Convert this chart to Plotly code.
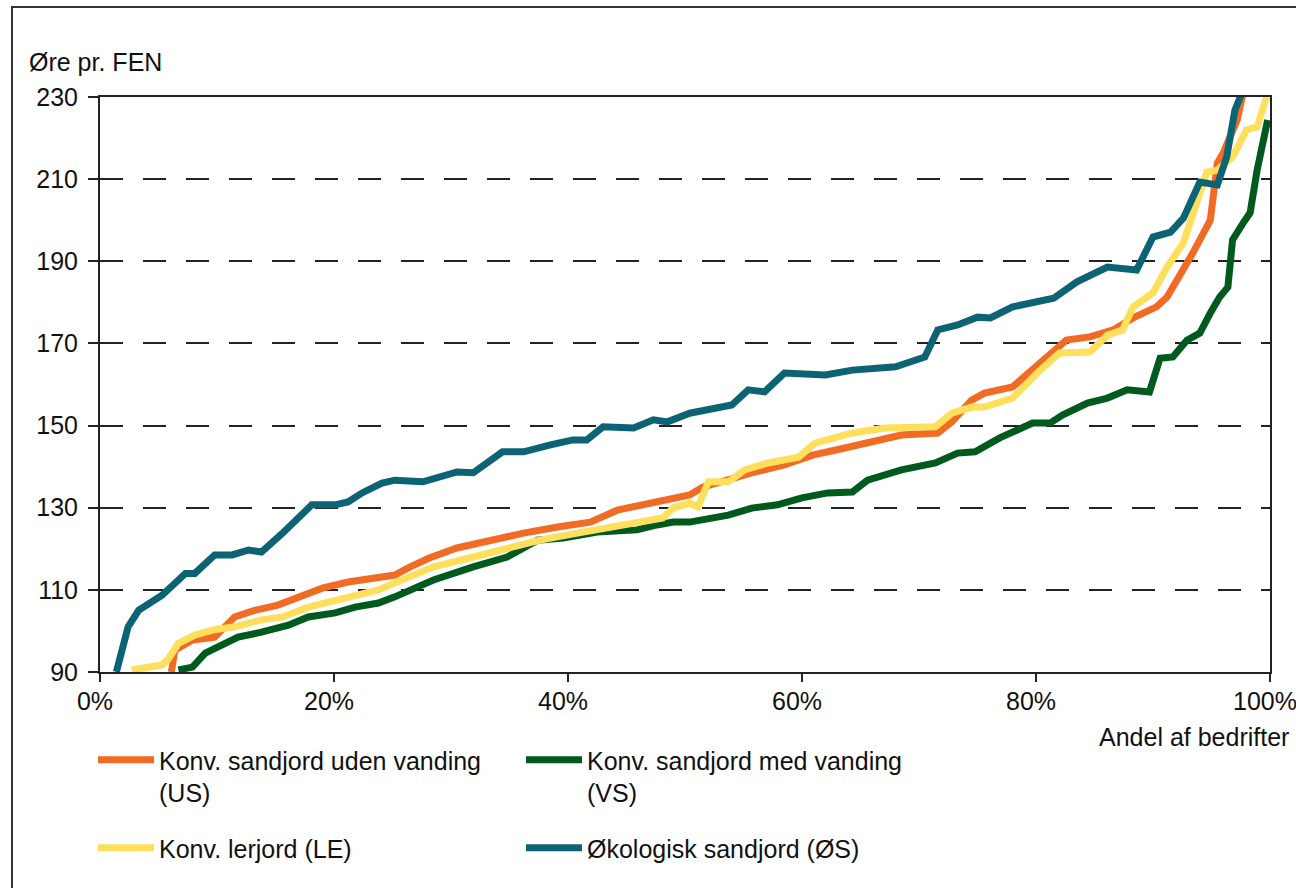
import plotly.graph_objects as go

# ---- data (x = share of farms in %, y = øre pr. FEN) ----
x_us = [6.1, 6.4, 7.9, 9.8, 11.5, 13.2, 15.2, 16.9, 19.0, 21.2, 23.2, 25.2, 26.5, 28.2, 30.5, 33.3, 36.2, 39.1,
        41.9, 44.2, 46.4, 48.7, 50.4, 51.5, 53.4, 55.7, 58.5, 60.9, 62.8, 65.6, 68.5, 71.6, 72.8, 74.5, 75.6,
        78.0, 79.7, 80.9, 82.6, 84.6, 86.6, 88.3, 90.3, 91.2, 92.0, 93.4, 94.9, 95.5, 96.0, 97.2, 97.7]
y_us = [90, 95.3, 97.8, 98.5, 103.4, 105, 106.3, 108.3, 110.4, 111.9, 112.9, 113.6, 115.6, 117.8, 120.2, 122.1,
        123.8, 125.3, 126.5, 129.4, 130.7, 132.4, 133.1, 135, 136.7, 138.5, 140.4, 142.8, 144, 145.7, 147.7,
        148.2, 150.9, 156.2, 157.9, 159.4, 163.5, 166.7, 170.8, 171.6, 173.3, 176.2, 178.9, 181.3, 185, 192,
        200, 213.9, 216.4, 224.4, 231]

x_vs = [6.7, 7.9, 9.0, 10.4, 11.8, 13.8, 16.1, 17.8, 20.1, 21.8, 23.8, 25.2, 28.5, 31.9, 34.8, 37.4, 39.6, 42.5,
        45.9, 47.6, 49.0, 50.4, 53.7, 55.7, 57.9, 60.0, 62.2, 64.3, 65.6, 68.5, 71.4, 73.3, 74.8, 76.9, 79.7,
        81.2, 82.3, 84.4, 86.1, 87.8, 89.7, 90.6, 91.7, 92.9, 94.0, 94.9, 95.7, 96.4, 96.8, 97.7, 98.3, 98.9,
        99.4, 99.8]
y_vs = [90.5, 91.2, 94.6, 96.6, 98.5, 99.7, 101.4, 103.4, 104.4, 105.8, 106.8, 108.3, 112.4, 115.6, 118, 122.1,
        122.6, 124.1, 124.6, 125.8, 126.5, 126.5, 128.2, 129.9, 130.7, 132.4, 133.6, 133.8, 136.7, 139.2, 140.9,
        143.3, 143.6, 147, 150.6, 150.6, 152.6, 155.5, 156.7, 158.7, 158.2, 166.4, 166.7, 170.8, 172.5, 177.4,
        181.3, 183.7, 195.2, 199.3, 201.8, 212.2, 219.5, 224.4]

x_le = [2.7, 5.3, 5.8, 6.7, 8.1, 9.6, 11.5, 13.8, 15.6, 17.8, 19.5, 21.8, 23.8, 25.2, 28.5, 31.9, 34.8, 37.6,
        40.8, 43.3, 46.2, 48.1, 49.0, 50.4, 51.1, 52.0, 53.7, 55.1, 57.1, 59.7, 61.1, 64.3, 67.1, 71.4, 72.8,
        74.5, 75.6, 78.0, 80.1, 82.0, 84.6, 86.1, 87.4, 88.3, 90.0, 91.2, 92.6, 93.8, 94.6, 95.5, 96.8, 98.0,
        98.9, 99.7]
y_le = [90.5, 91.7, 93, 97, 99, 100.2, 101, 102.7, 103.4, 105.8, 107, 108.7, 110, 111.7, 115.6, 118, 120.2,
        122.1, 123.8, 125, 126.5, 127.5, 130, 131.1, 130.2, 136.3, 136.3, 139.2, 140.9, 142.3, 145.7, 148.2,
        149.4, 149.7, 153, 154.5, 154.5, 156.7, 162.8, 167.7, 167.9, 172, 173.3, 178.9, 182.3, 188.6, 194.5,
        204.2, 211.7, 212.2, 215.4, 222, 222.7, 230]

x_os = [1.4, 2.4, 3.3, 5.3, 7.3, 8.1, 9.8, 11.3, 12.7, 13.8, 15.6, 18.1, 20.1, 21.2, 22.4, 24.1, 25.2, 27.6,
        30.5, 31.9, 34.4, 36.2, 38.5, 40.4, 41.6, 43.0, 45.6, 47.3, 48.5, 50.4, 54.0, 55.4, 56.8, 58.5, 62.0,
        64.3, 68.0, 70.5, 71.6, 73.3, 75.0, 76.1, 78.0, 81.5, 83.5, 86.1, 88.6, 90.0, 91.5, 92.6, 94.0, 95.5,
        96.3, 97.0, 97.6]
y_os = [90, 101, 105, 108.7, 114, 114, 118.5, 118.5, 119.7, 119.2, 123.8, 130.7, 130.7, 131.4, 133.6, 136,
        136.7, 136.3, 138.7, 138.5, 143.6, 143.6, 145.3, 146.5, 146.5, 149.7, 149.4, 151.4, 150.9, 153, 155,
        158.7, 158.2, 162.8, 162.3, 163.5, 164.3, 166.7, 173.3, 174.5, 176.4, 176.2, 178.9, 181, 185, 188.6,
        187.9, 195.9, 197.1, 200.5, 209.3, 208.6, 215.4, 226.8, 231]

x_ticks = [0, 20, 40, 60, 80, 100]
x_tick_labels = ["0%", "20%", "40%", "60%", "80%", "100%"]
y_ticks = [90, 110, 130, 150, 170, 190, 210, 230]

names = {
    "US": "Konv. sandjord uden vanding<br>(US)",
    "VS": "Konv. sandjord med vanding<br>(VS)",
    "LE": "Konv. lerjord (LE)",
    "OS": "Økologisk sandjord (ØS)",
}
colors = {"US": "#F26B24", "VS": "#005A1E", "LE": "#FFDF5C", "OS": "#0B6373"}

FONT = "Liberation Sans, Arial, sans-serif"
TXT = "#111111"
FS = 25
LW = 7

fig = go.Figure()
fig.add_trace(go.Scatter(x=x_vs, y=y_vs, mode="lines", name=names["VS"], legend="legend", legendrank=2,
                         line=dict(color=colors["VS"], width=LW)))
fig.add_trace(go.Scatter(x=x_us, y=y_us, mode="lines", name=names["US"], legend="legend", legendrank=1,
                         line=dict(color=colors["US"], width=LW)))
fig.add_trace(go.Scatter(x=x_le, y=y_le, mode="lines", name=names["LE"], legend="legend2", legendrank=1,
                         line=dict(color=colors["LE"], width=LW)))
fig.add_trace(go.Scatter(x=x_os, y=y_os, mode="lines", name=names["OS"], legend="legend2", legendrank=2,
                         line=dict(color=colors["OS"], width=LW)))

W, H = 1296, 888
L, T = 100, 97
R = W - 1270
B = H - 672
pw, ph = W - L - R, H - T - B


def px_x(p):
    return (p - L) / pw


def px_y(p):
    return (H - B - p) / ph


legend_common = dict(orientation="h", xanchor="left", yanchor="top", valign="top",
                     itemwidth=56, entrywidth=357, bgcolor="rgba(0,0,0,0)",
                     font=dict(family=FONT, size=FS, color=TXT), traceorder="normal")

fig.update_layout(
    width=W, height=H,
    margin=dict(l=L, r=R, t=T, b=B, autoexpand=False),
    paper_bgcolor="white", plot_bgcolor="white",
    font=dict(family=FONT, size=FS, color=TXT),
    showlegend=True,
    legend=dict(x=px_x(93), y=px_y(737), **legend_common),
    legend2=dict(x=px_x(93), y=px_y(825), **legend_common),
    xaxis=dict(range=[0, 100], tickvals=x_ticks, ticktext=x_tick_labels, showgrid=False, zeroline=False,
               showline=True, linecolor="#222", linewidth=2, mirror=True,
               ticks="outside", ticklen=8, tickwidth=2, tickcolor="#222", ticklabelstandoff=-2,
               ticklabelshift=-5, ticklabeloverflow="allow",
               tickfont=dict(family=FONT, size=FS, color=TXT)),
    yaxis=dict(range=[90, 230], tickvals=y_ticks, showgrid=True, gridcolor="#222", gridwidth=2,
               griddash="23px,20px", zeroline=False,
               showline=True, linecolor="#222", linewidth=2, mirror=True,
               ticks="outside", ticklen=10, tickwidth=2, tickcolor="#222", ticklabelstandoff=5,
               tickfont=dict(family=FONT, size=FS, color=TXT)),
    annotations=[
        dict(text="Øre pr. FEN", xref="paper", yref="paper", x=px_x(27), y=px_y(62),
             xanchor="left", yanchor="middle", showarrow=False, font=dict(family=FONT, size=FS, color=TXT)),
        dict(text="Andel af bedrifter", xref="paper", yref="paper", x=px_x(1291), y=px_y(737),
             xanchor="right", yanchor="middle", showarrow=False, font=dict(family=FONT, size=FS, color=TXT)),
    ],
    shapes=[
        dict(type="rect", xref="paper", yref="paper", x0=px_x(12), x1=px_x(1320), y0=px_y(920), y1=px_y(7),
             line=dict(color="#333", width=2), fillcolor="rgba(0,0,0,0)", layer="below"),
    ],
)

# the page body has a default 8px margin; remove it so the figure sits at (0, 0)
fig.write_html("out.html", config={"displayModeBar": False},
               post_script="document.body.style.margin='0px';")
